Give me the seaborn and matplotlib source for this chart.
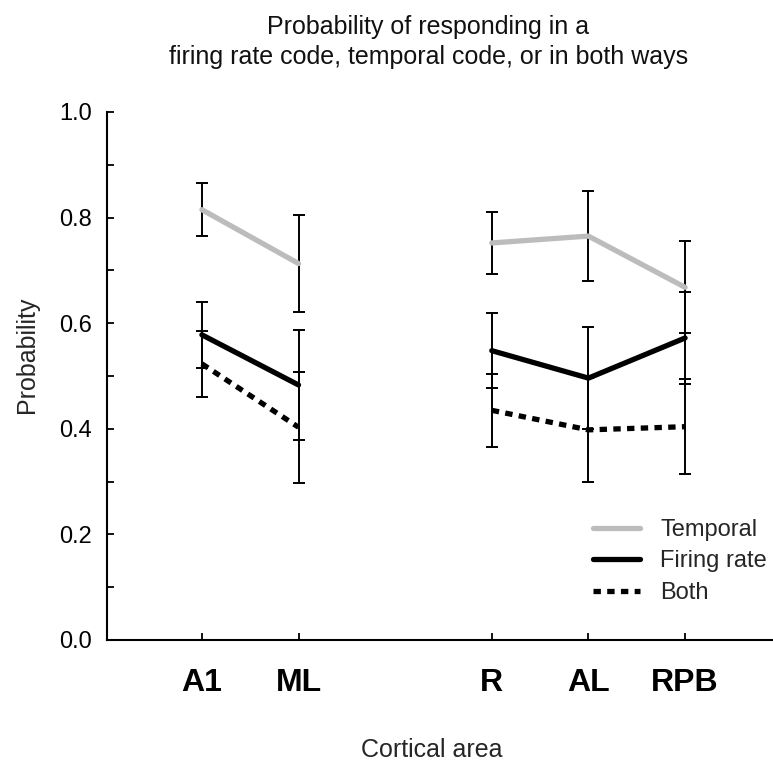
import matplotlib
matplotlib.use("Agg")
import matplotlib.pyplot as plt
import seaborn as sns
import pandas as pd
import numpy as np
from matplotlib.lines import Line2D

areas = ["A1", "ML", "R", "AL", "RPB"]
positions = [1, 2, 4, 5, 6]
groups = [0, 0, 1, 1, 1]

temporal = [0.815, 0.713, 0.752, 0.765, 0.668]
temporal_err = [0.050, 0.091, 0.059, 0.085, 0.087]
firing = [0.578, 0.483, 0.548, 0.496, 0.572]
firing_err = [0.062, 0.105, 0.071, 0.096, 0.087]
both = [0.523, 0.403, 0.435, 0.398, 0.404]
both_err = [0.062, 0.105, 0.069, 0.098, 0.090]

series_names = ["Temporal", "Firing rate", "Both"]
series_vals = [temporal, firing, both]
series_errs = [temporal_err, firing_err, both_err]

rows = []
for name, vals, errs in zip(series_names, series_vals, series_errs):
    for a, p, g, v, e in zip(areas, positions, groups, vals, errs):
        rows.append({"series": name, "area": a, "pos": p, "group": g, "prob": v, "err": e})
df = pd.DataFrame(rows)

sns.set_style("ticks")
plt.rcParams["font.family"] = ["Liberation Sans", "DejaVu Sans"]

fig = plt.figure(figsize=(7.73, 7.72), dpi=100)
ax = fig.add_axes([107 / 773, 1 - 640 / 772, 1 - 107 / 773, (640 - 112) / 772])

# error bars
for name in series_names:
    sub = df[df.series == name]
    ax.errorbar(sub["pos"], sub["prob"], yerr=sub["err"], fmt="none",
                ecolor="black", elinewidth=1.4, capsize=4.5, capthick=1.4, zorder=2)

palette = {"Temporal": "#bcbcbc", "Firing rate": "black", "Both": "black"}
dashes = {"Temporal": "", "Firing rate": "", "Both": (1.4, 1.2)}
sns.lineplot(data=df, x="pos", y="prob", hue="series", style="series",
             units="group", estimator=None, palette=palette, dashes=dashes,
             hue_order=series_names, style_order=series_names,
             linewidth=3.8, ax=ax, zorder=3, legend=False, sort=False)

handles = [Line2D([], [], color=palette[n], lw=3.8) for n in series_names]
handles[2].set_dashes((1.4, 1.2))
ax.legend(handles, series_names, loc="upper left", frameon=False,
          bbox_to_anchor=(593 / 773, 1 - 519 / 772), bbox_transform=fig.transFigure,
          borderaxespad=0, borderpad=0, handlelength=2.0, handletextpad=0.85,
          labelspacing=0.4, fontsize=17)

ax.set_xlim(0.018, 6.91)
ax.set_ylim(0, 1.0)
ax.set_xticks(positions)
ax.set_xticklabels(areas, fontsize=23, fontweight="bold")
ax.set_yticks(np.arange(0, 1.01, 0.2))
ax.set_yticklabels([f"{v:.1f}" for v in np.arange(0, 1.01, 0.2)], fontsize=17)
ax.set_yticks(np.arange(0.1, 1.0, 0.2), minor=True)
ax.tick_params(axis="y", which="both", direction="in", length=5, width=1.3, pad=11, colors="black")
ax.tick_params(axis="x", direction="in", length=5, width=1.3, pad=20, colors="black")
for s in ["top", "right"]:
    ax.spines[s].set_visible(False)
for s in ["left", "bottom"]:
    ax.spines[s].set_linewidth(1.5)
    ax.spines[s].set_color("black")
ax.set_xlabel("")
ax.set_ylabel("")

fig.text(0.554, 1 - 42 / 772,
         "Probability of responding in a\nfiring rate code, temporal code, or in both ways",
         ha="center", va="center", fontsize=18, linespacing=1.35, color="#111111")
fig.text(0.558, 1 - 750 / 772, "Cortical area", ha="center", va="center", fontsize=18)
fig.text(27 / 773, 1 - 355 / 772, "Probability", ha="center", va="center",
         rotation=90, fontsize=18)

fig.savefig("out.png", dpi=100)
